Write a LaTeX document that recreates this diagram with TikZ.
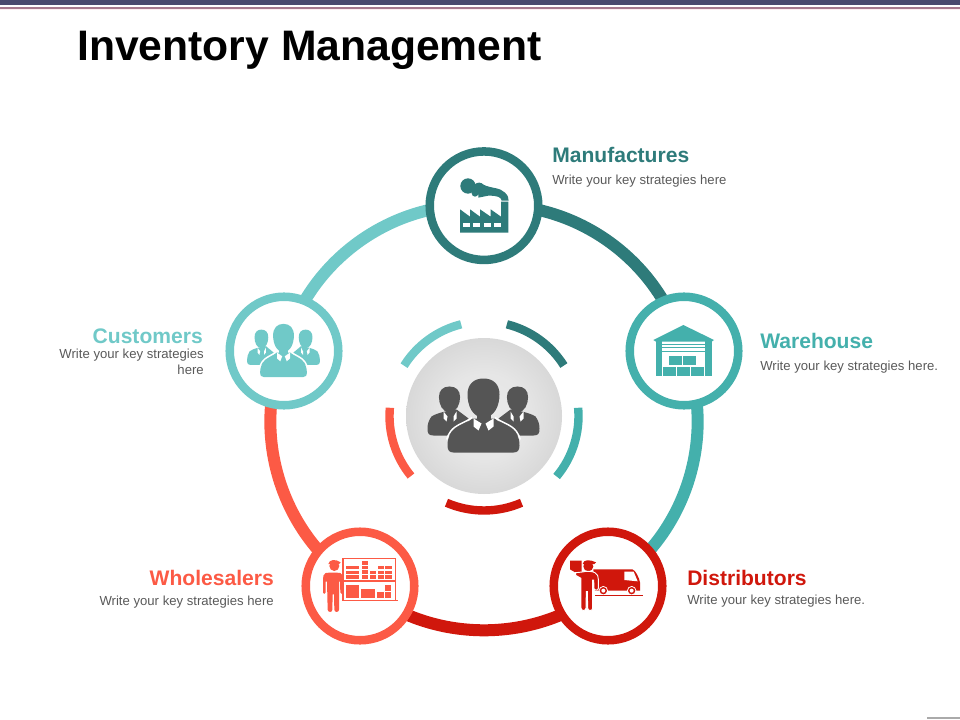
\documentclass[tikz,border=0pt]{standalone}
\usepackage{fontspec}
\setmainfont{Liberation Sans}
\usetikzlibrary{backgrounds}
\definecolor{cmanu}{HTML}{2E7B7A}
\definecolor{cware}{HTML}{44B0AC}
\definecolor{cdist}{HTML}{D0170C}
\definecolor{cwhole}{HTML}{FC5A45}
\definecolor{ccust}{HTML}{70C9C8}
\definecolor{cgrayicon}{HTML}{555555}
\definecolor{ctext}{HTML}{595959}
\pgfdeclareradialshading{hubshade}{\pgfpoint{0bp}{0bp}}{rgb(0bp)=(0.92,0.92,0.92);rgb(14bp)=(0.90,0.90,0.90);rgb(35bp)=(0.80,0.80,0.80);rgb(50bp)=(0.72,0.72,0.72)}
\tikzset{
  x=0.75pt,y=-0.75pt,
  stage/.style={circle,draw=#1,fill=white,line width=6.4pt,minimum size=81.4pt,inner sep=0pt},
  ringarc/.style={draw=#1,line width=9pt,bend left=40,looseness=0.95},
  innerarc/.style={draw=#1,line width=6.3pt},
  heading/.style={font=\bfseries\fontsize{15.8pt}{18pt}\selectfont,text=#1,inner sep=0pt},
  body/.style={font=\fontsize{9.85pt}{12pt}\selectfont,text=ctext,inner sep=0pt},
}
\newcommand{\headshape}[1]{%
  \fill[#1] (0,-37) .. controls (10,-37) and (16,-31) .. (16,-21) .. controls (16,-10) and (11,2) .. (0,2)
     .. controls (-11,2) and (-16,-10) .. (-16,-21) .. controls (-16,-31) and (-10,-37) .. (0,-37) -- cycle;
}
% three people, local px coordinates around the middle figure
\newcommand{\peopleicon}[2]{%
  \foreach \sd in {-1,1}{%
    \begin{scope}[xscale=\sd]
      \begin{scope}[shift={(34,-4.6)},scale=0.66]
        \headshape{#1}
      \end{scope}
      \fill[#1] (27,-6) .. controls (34,-5) and (46,-3) .. (52,1) .. controls (55,5) and (56,9) .. (56,13)
        .. controls (56,18) and (55,20) .. (50,20) -- (20,20) -- (15,3) -- cycle;
      \fill[white] (27,-4) -- (30,1) -- (30,6) -- (27,3) -- cycle;
      \fill[white] (40,-4) -- (36,1) -- (37,6) -- (40,3) -- cycle;
    \end{scope}}
  \headshape{#1}
  \fill[#1] (-7,-4) rectangle (7,8);
  \fill[#1] (-11,3) .. controls (-17,8) and (-28,10) .. (-32,17) .. controls (-35,21) and (-36,25) .. (-36,30)
    .. controls (-36,35) and (-34,37) .. (-30,37) -- (30,37) .. controls (34,37) and (36,35) .. (36,30)
    .. controls (36,25) and (35,21) .. (32,17) .. controls (28,10) and (17,8) .. (11,3) -- cycle;
  \draw[#2,line width=1.1pt] (-36.8,24) .. controls (-36,21) and (-35,19) .. (-33,16) .. controls (-28,9) and (-18,7) .. (-11.5,2);
  \draw[#2,line width=1.1pt] (36.8,24) .. controls (36,21) and (35,19) .. (33,16) .. controls (28,9) and (18,7) .. (11.5,2);
  \fill[white] (-10,3) -- (-2,8) -- (-5,15) -- (-10,11) -- cycle;
  \fill[white] (10,3) -- (2,8) -- (5,15) -- (10,11) -- cycle;
}
\newcommand{\workerbody}[1]{%
  \fill[#1] (-22,22) .. controls (-10,20) and (10,20) .. (22,22) .. controls (28,24) and (30,30) .. (30,38)
    -- (30,75) .. controls (30,80) and (22,80) .. (22,75) -- (21,45) -- (18,45) -- (18,122)
    .. controls (18,130) and (4,130) .. (4,122) -- (3,80) -- (-1,80) -- (-2,122)
    .. controls (-2,130) and (-15,130) .. (-16,122) -- (-18,45) -- (-22,45) -- (-22,75)
    .. controls (-22,80) and (-30,80) .. (-30,75) -- (-30,38) .. controls (-30,30) and (-28,24) .. (-22,22) -- cycle;
}
\begin{document}
\begin{tikzpicture}
\useasboundingbox (0,0) rectangle (960,720);
% top rules and footer mark
\fill[fill={rgb,255:red,74;green,74;blue,110}] (0,0) rectangle (960,4.6);
\fill[fill={rgb,255:red,168;green,122;blue,142}] (0,6.8) rectangle (960,9);
\fill[fill={rgb,255:red,253;green,236;blue,238}] (0,9) rectangle (960,10.5);
\fill[fill={rgb,255:red,170;green,170;blue,170}] (926.5,717.3) rectangle (960,719);

\node[anchor=base west,inner sep=0pt,font=\bfseries\fontsize{32pt}{36pt}\selectfont] (title) at (77,61) {Inventory Management};

% stages
\node[stage=cmanu]  (manu)  at (484,205.7) {};
\node[stage=cware]  (ware)  at (684,351) {};
\node[stage=cdist]  (dist)  at (608,586) {};
\node[stage=cwhole] (whole) at (360,586) {};
\node[stage=ccust]  (cust)  at (284,351) {};
\node[circle,minimum size=117pt,inner sep=0pt,shading=hubshade] (hub) at (484,416) {};

\begin{scope}[on background layer]
  \draw[ringarc=cmanu]  (manu.center)  to (ware.center);
  \draw[ringarc=cware]  (ware.center)  to (dist.center);
  \draw[ringarc=cdist]  (dist.center)  to (whole.center);
  \draw[ringarc=cwhole] (whole.center) to (cust.center);
  \draw[ringarc=ccust]  (cust.center)  to (manu.center);
\end{scope}

% inner dashes (screen angle a is written -a because y points down)
\draw[innerarc=cmanu]  (hub.center) ++(-76:94.5) arc[start angle=-76,end angle=-32.3,radius=94.5];
\draw[innerarc=cware]  (hub.center) ++(-5:94.5) arc[start angle=-5,end angle=39.8,radius=94.5];
\draw[innerarc=cdist]  (hub.center) ++(66.6:94.5) arc[start angle=66.6,end angle=113.4,radius=94.5];
\draw[innerarc=cwhole] (hub.center) ++(140.6:94.5) arc[start angle=140.6,end angle=185,radius=94.5];
\draw[innerarc=ccust]  (hub.center) ++(212.2:94.5) arc[start angle=212.2,end angle=256,radius=94.5];

% centre figures
\begin{scope}[shift={(483.5,415.5)}]
  \peopleicon{cgrayicon}{white}
\end{scope}
% customers figures
\begin{scope}[shift={(283.5,350.5)},xscale=0.65,yscale=0.72]
  \peopleicon{ccust}{white}
\end{scope}

% factory
\begin{scope}[shift={(420,140)},scale=0.33333]
  \fill[cmanu] (120,278) -- (120,208) -- (150,230) -- (150,208) -- (180,230) -- (180,208) -- (212,230) -- (212,208) -- (243,230) -- (243,185) -- (265,185) -- (265,278) -- cycle;
  \foreach \wx in {130,160,192,222}{\fill[white] (\wx,248) rectangle ++(21,12);}
  \fill[cmanu] (144,138) circle (23);
  \fill[cmanu] (177,146) circle (18);
  \fill[cmanu] (165,160) circle (10);
  \fill[cmanu] (177,128) -- (190,134) .. controls (215,146) and (240,142) .. (255,158) .. controls (263,166) and (266,172) .. (266,182)
     -- (245,182) .. controls (243,172) and (235,167) .. (205,167) -- (175,173) -- cycle;
\end{scope}

% warehouse
\begin{scope}[shift={(620,285)},scale=0.33333]
  \fill[cware] (100,165) -- (190,120) -- (282,165) -- (275,170) -- (108,170) -- cycle;
  \fill[cware] (108,168) rectangle (127,272);
  \fill[cware] (255,168) rectangle (275,272);
  \fill[cware] (127,177) rectangle (255,180);
  \fill[cware] (127,187) rectangle (255,190);
  \fill[cware] (127,197) rectangle (255,200);
  \fill[cware] (147,213) rectangle (186,240);
  \fill[cware] (190,213) rectangle (228,240);
  \fill[cware] (128,245) rectangle (167,272);
  \fill[cware] (170,245) rectangle (210,272);
  \fill[cware] (213,245) rectangle (252,272);
\end{scope}

% van and courier
\begin{scope}[shift={(545,520)},scale=0.33333]
  \fill[cdist] (145,148) -- (262,148) .. controls (272,150) and (283,175) .. (285,187) -- (285,212) -- (150,212) -- cycle;
  \fill[white] (238,155) -- (266,155) -- (278,184) -- (238,180) -- cycle;
  \foreach \wx in {175,260}{
    \fill[white] (\wx,212) circle (14);
    \fill[cdist] (\wx,212) circle (11);
    \fill[white] (\wx,212) circle (6);
  }
  \fill[cdist] (150,225) rectangle (295,228);
  \fill[cdist] (75,122) -- (110,122) -- (110,158) -- (92,158) -- (75,148) -- cycle;
  \fill[cdist] (130,139) circle (15);
  \fill[cdist] (113,132) .. controls (115,118) and (135,118) .. (153,127) -- (148,132) -- cycle;
  \filldraw[fill=cdist,draw=white,line width=0.7pt] (92,158) -- (112,156) .. controls (125,153) and (140,153) .. (150,158)
     .. controls (158,162) and (160,170) .. (160,178) -- (160,205) .. controls (160,212) and (147,212) .. (147,205)
     -- (146,180) -- (143,180) -- (143,264) .. controls (143,274) and (128,274) .. (128,264) -- (127,215) -- (124,215)
     -- (123,264) .. controls (123,274) and (108,274) .. (108,264) -- (108,175) -- (92,166) -- cycle;
\end{scope}

% shelf and storekeeper
\begin{scope}[shift={(295,520)},scale=0.33333]
  \fill[cwhole] (118,138) circle (15);
  \fill[cwhole] (100,132) .. controls (103,117) and (122,117) .. (137,127) -- (132,132) -- cycle;
  \begin{scope}[shift={(114,135)},xscale=1.0,yscale=1.1]
    \workerbody{cwhole}
  \end{scope}
  \fill[cwhole] (142,113) rectangle (146,240);
  \fill[cwhole] (300,113) rectangle (304,240);
  \fill[cwhole] (142,114) rectangle (304,117);
  \fill[cwhole] (142,181) rectangle (304,185);
  \fill[cwhole] (142,239) rectangle (308,243);
  \foreach \xa/\xb/\ya/\yb in {152/192/137/147,152/192/152/162,152/192/165/178,
      200/220/122/135,200/220/137/147,200/220/150/162,200/220/165/178,
      225/243/152/162,225/243/165/178,250/268/137/147,270/290/137/147,
      250/268/152/162,270/290/152/162,250/268/165/178,270/290/165/178,
      152/192/195/233,198/240/207/233,247/268/217/233,270/288/195/212,270/288/217/233}{
    \fill[cwhole] (\xa,\ya) rectangle (\xb,\yb);
  }
\end{scope}

% labels
\node[heading=cmanu,anchor=base west] (lm) at (552,163) {Manufactures};
\node[body,anchor=base west] (tm) at (552,185) {Write your key strategies here};
\node[heading=cware,anchor=base west] (lw) at (760,348) {Warehouse};
\node[body,anchor=base west] (tw) at (760,370) {Write your key strategies here.};
\node[heading=cdist,anchor=base west] (ld) at (687,585) {Distributors};
\node[body,anchor=base west] (td) at (687,604) {Write your key strategies here.};
\node[heading=cwhole,anchor=base east] (lh) at (274,585) {Wholesalers};
\node[body,anchor=base east] (th) at (274,605) {Write your key strategies here};
\node[heading=ccust,anchor=base east] (lc) at (203,344) {Customers};
\node[body,anchor=base east] (tc1) at (204,358) {Write your key strategies};
\node[body,anchor=base east] (tc2) at (204,374) {here};
\end{tikzpicture}
\end{document}
